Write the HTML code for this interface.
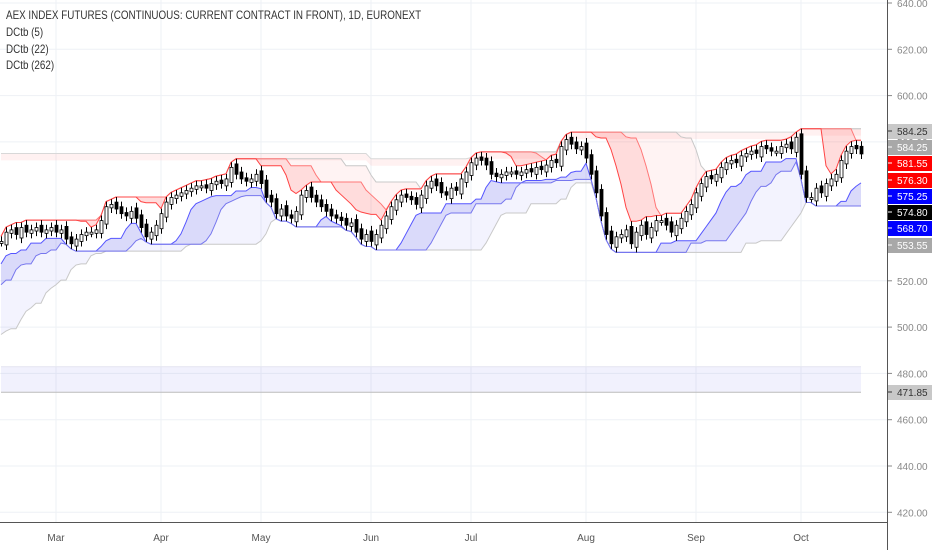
<!DOCTYPE html>
<html><head><meta charset="utf-8"><style>
body{margin:0;background:#fff;font-family:"Liberation Sans",sans-serif}
#wrap{position:relative;width:932px;height:550px;overflow:hidden}
.t{position:absolute;left:6px;font-size:12px;color:#333;transform:scaleX(0.82);transform-origin:0 0;white-space:nowrap}
</style></head><body>
<div id="wrap">
<svg id="svg" width="932" height="550"></svg>
<div class="t" style="top:8px">AEX INDEX FUTURES (CONTINUOUS: CURRENT CONTRACT IN FRONT), 1D, EURONEXT</div>
<div class="t" style="top:25px">DCtb (5)</div>
<div class="t" style="top:42px">DCtb (22)</div>
<div class="t" style="top:58px">DCtb (262)</div>
</div>
<script>
const prehistoryCloses=[500,502,505,503,507,510,512,515,514,518,520,522,525,524,528,530,532,531,534,536,535,537];
const closes=[537,541,542,540,543,541,542,543,541,542,543,
541,542,538,536,538,540,541,541,542,546,552,
553,551,549,548,550,547,543,539,541,544,
549,554,556,557,558,559,560,561,561,560,562,563,562,564,569,566,564,563,564,566,
562,556,554,549,551,548,547,550,557,559,556,554,552,550,548,547,546,544,545,541,538,540,
537,540,544,548,552,555,557,556,555,553,557,561,563,561,558,557,560,559,564,567,
571,573,572,570,566,565,566,567,567,566,567,568,567,569,568,570,572,571,578,581,579,577,578,
573,566,558,548,540,536,539,540,542,536,541,544,540,543,546,546,544,541,544,547,550,553,
558,562,565,564,566,569,571,572,571,574,575,576,575,578,577,576,576,578,579,577,582,
566,556,556,560,558,562,564,566,572,576,578,577,574.8];
const monthLabels=["Mar","Apr","May","Jun","Jul","Aug","Sep","Oct"];
const monthStartBars=[11,32,52,74,94,117,139,160];
const priceTicks=[640,620,600,580,520,500,480,460,440,420];
const prevYearHighByMonth=[575,575,575,575,570,561,558,558,558,558];
const yearLow=471.85;
const wick=2.2;

const NS="http://www.w3.org/2000/svg",svg=document.getElementById('svg');
const X=i=>1+5*i, Y=v=>3+(640-v)*2.315;
function el(tag,attrs,parent){const e=document.createElementNS(NS,tag);for(const k in attrs)e.setAttribute(k,attrs[k]);(parent||svg).appendChild(e);return e;}
const all=prehistoryCloses.concat(closes);const P=prehistoryCloses.length;
const O=[],H=[],L=[];
for(let i=0;i<all.length;i++){const pc=i?all[i-1]:all[i];const ext=Math.max(-1.5,Math.min(1.5,0.5*(all[i]-pc)));const o=pc-ext;O.push(o);H.push(Math.max(o,all[i])+wick);L.push(Math.min(o,all[i])-wick);}
const hi=(i,n)=>{let m=-1e9;for(let k=Math.max(0,i-n+1);k<=i;k++)m=Math.max(m,H[k]);return m};
const lo=(i,n)=>{let m=1e9;for(let k=Math.max(0,i-n+1);k<=i;k++)m=Math.min(m,L[k]);return m};
const g=el('g',{});
priceTicks.forEach(v=>{const l=el('line',{x1:0,x2:887,y1:Y(v),y2:Y(v),stroke:'#eef1f5'},g);});
monthStartBars.forEach(b=>{const l=el('line',{x1:X(b),x2:X(b),y1:0,y2:522,stroke:'#eef1f5'},g);});
function band(fa,fb,fill,name,lineA,lineB){
  const n=closes.length;let up=[],dn=[];
  for(let i=0;i<n;i++){up.push(X(i)+','+Y(fa(i+P)));dn.push(X(i)+','+Y(fb(i+P)));}
  const p=el('polygon',{points:up.concat(dn.slice().reverse()).join(' '),fill:fill});
  
  if(lineA){const l=el('polyline',{points:up.join(' '),fill:'none',stroke:lineA,'stroke-width':1});}
  if(lineB){const l=el('polyline',{points:dn.join(' '),fill:'none',stroke:lineB,'stroke-width':1});}
}
const monthOf=i=>{let m=0;for(let k=0;k<monthStartBars.length;k++)if(i-P>=monthStartBars[k])m=k+1;return m;};
const hi262=i=>{let m=prevYearHighByMonth[monthOf(i)];for(let k=0;k<=i;k++)m=Math.max(m,H[k]);return m;};
band(i=>hi262(i),i=>hi262(i)-3,'rgba(255,120,120,0.10)','dc262-upper-band','#d8d8d8',null);
band(i=>yearLow+11,i=>yearLow,'rgba(120,120,240,0.10)','dc262-lower-band','#e4e4f0','#bbb');
band(i=>hi(i,22),i=>hi(i,11),'rgba(255,120,120,0.09)','dc22-upper-outer-band','#c8c8c8',null);
band(i=>lo(i,11),i=>lo(i,22),'rgba(120,120,240,0.09)','dc22-lower-outer-band',null,'#c8c8c8');
band(i=>hi(i,11),i=>hi(i,5),'rgba(255,60,60,0.18)','dc5-upper-band','#f77','#f44');
band(i=>lo(i,5),i=>lo(i,11),'rgba(70,70,230,0.2)','dc5-lower-band','#55f','#77e');
for(let i=0;i<closes.length;i++){const k=i+P,o=O[k],c=all[k],x=X(i);
  const w=el('line',{x1:x+0.5,x2:x+0.5,y1:Y(H[k]),y2:Y(L[k]),stroke:'#000'});
  const t=Math.min(Y(o),Y(c)),h=Math.max(2,Math.abs(Y(o)-Y(c)));
  const b=el('rect',{x:x-1,y:t,width:3,height:h,fill:c>=o?'#fff':'#000',stroke:'#000','stroke-width':0.8});}
const ax=el('line',{x1:887.5,x2:887.5,y1:0,y2:550,stroke:'#555'});
const bx=el('line',{x1:0,x2:887,y1:522.5,y2:522.5,stroke:'#555'});
priceTicks.forEach(v=>{const tk=el('line',{x1:888,x2:892,y1:Y(v),y2:Y(v),stroke:'#888'});
 const t=el('text',{x:897,y:Y(v)+4,'font-size':10,fill:'#888'});t.textContent=v.toFixed(2);});
monthStartBars.forEach((b,j)=>{const t=el('text',{x:X(b),y:541,'font-size':10,fill:'#555','text-anchor':'middle'});t.textContent=monthLabels[j];});
const tagValues=["584.25","584.25","581.55","576.30","575.25","574.80","568.70","553.55","471.85"];
const tagColors=["#c8c8c8","#a8a8a8","#ff0000","#ff0000","#0000ff","#000000","#0000ff","#a8a8a8","#c8c8c8"];
const tagTextColors=["#333","#fff","#fff","#fff","#fff","#fff","#fff","#fff","#333"];
const tagY=[131,147,163,180,196,212,228,245,392];
tagValues.forEach((v,j)=>{const r=el('rect',{x:888,y:tagY[j]-7,width:44,height:15,fill:tagColors[j]});
 const tk=el('line',{x1:888,x2:892,y1:tagY[j],y2:tagY[j],stroke:tagTextColors[j]});
 const t=el('text',{x:897,y:tagY[j]+4,'font-size':10,fill:tagTextColors[j]});t.textContent=v;});
</script>
</body></html>
